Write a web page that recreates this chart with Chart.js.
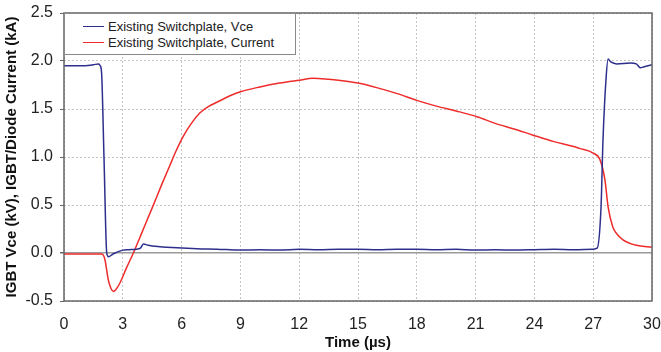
<!DOCTYPE html>
<html>
<head>
<meta charset="utf-8">
<script src="https://cdn.jsdelivr.net/npm/chart.js@4.4.1/dist/chart.umd.min.js"></script>
<style>
  html, body { margin: 0; padding: 0; background: #fff; }
  #wrap { position: relative; width: 661px; height: 352px; }
  #legend {
    position: absolute; left: 64px; top: 13px; width: 232px; height: 42px;
    background: #fff; border: 1px solid #8a8a8a; box-sizing: border-box;
    font: 13px "Liberation Sans", Arial, sans-serif; color: #222;
    padding-top: 4px;
  }
  #legend .item { display: flex; align-items: center; height: 16px; padding-left: 18px; }
  #legend .swatch { width: 21px; height: 0; border-top: 1.5px solid; margin-right: 4px; }
</style>
</head>
<body>
<div id="wrap">
  <canvas id="chart" width="661" height="352"></canvas>
  <div id="legend"></div>
</div>
<script>
// Vce trace (kV)
const vceTime = [0, 1.0, 1.5, 1.75, 1.85, 1.92, 2.04, 2.18, 2.27, 2.5, 3.0, 3.3, 3.7, 3.9, 4.05, 4.3, 4.9, 5.25,
    6.8, 7.8, 9, 10, 11, 12, 13, 14, 15, 16, 17, 18, 19, 20, 21, 22, 23, 24, 25, 26, 27, 27.2, 27.4,
    27.5, 27.65, 27.76, 27.9, 28.2, 28.9, 29.2, 29.4, 29.6, 30];
const vceValues = [1.95, 1.95, 1.96, 1.97, 1.95, 1.87, 1.0, 0.0, -0.04, -0.01, 0.03, 0.035, 0.04, 0.05, 0.095, 0.08, 0.065, 0.06,
    0.045, 0.04, 0.03, 0.035, 0.03, 0.04, 0.035, 0.04, 0.04, 0.035, 0.04, 0.04, 0.035, 0.04, 0.03, 0.035, 0.03, 0.035, 0.04, 0.035, 0.04, 0.05, 0.48,
    1.18, 1.8, 2.02, 1.99, 1.97, 1.98, 1.97, 1.93, 1.94, 1.96];

// IGBT/diode current trace (kA)
const currentTime = [0, 1, 1.9, 2.0, 2.09, 2.26, 2.4, 2.52, 2.65, 2.86, 3.2, 3.54, 4.0, 4.5, 5.0, 5.5, 5.71, 6.07,
    6.5, 6.94, 7.4, 7.8, 8.5, 9, 10, 11, 12, 12.7, 13.5, 14, 15, 16, 17, 18, 19, 20, 21.07, 22, 23, 23.9,
    25, 26, 26.3, 27, 27.35, 27.6, 27.76, 28.0, 28.2, 28.5, 29.2, 30];
const currentValues = [-0.01, -0.01, -0.01, -0.02, -0.07, -0.28, -0.37, -0.40, -0.38, -0.31, -0.15, 0, 0.225, 0.47, 0.72, 0.96, 1.06, 1.21,
    1.35, 1.46, 1.53, 1.57, 1.64, 1.68, 1.73, 1.77, 1.80, 1.82, 1.81, 1.80, 1.77, 1.72, 1.66, 1.59, 1.53, 1.48, 1.42, 1.35, 1.29, 1.23,
    1.16, 1.11, 1.09, 1.04, 0.97, 0.76, 0.48, 0.27, 0.2, 0.14, 0.08, 0.06];

const seriesLabels = ['Existing Switchplate, Vce', 'Existing Switchplate, Current'];
const xTicks = [0, 3, 6, 9, 12, 15, 18, 21, 24, 27, 30];
const yTicks = [-0.5, 0.0, 0.5, 1.0, 1.5, 2.0, 2.5];

const toPoints = (xs, ys) => xs.map((x, i) => ({ x: x, y: ys[i] }));

// outline round the plot area, like the scope export
const plotFrame = {
    id: 'plotFrame',
    afterDraw(chart) {
        const { ctx, chartArea: a } = chart;
        ctx.save();
        ctx.strokeStyle = '#666';
        ctx.lineWidth = 1.5;
        ctx.strokeRect(a.left, a.top, a.right - a.left, a.bottom - a.top);
        ctx.restore();
    }
};

const family = '"Liberation Sans", Arial, sans-serif';
const tickFont = { family: family, size: 16 };
const titleFont = { family: family, size: 15, weight: 'bold' };

const chart = new Chart(document.getElementById('chart'), {
    type: 'line',
    data: {
        datasets: [{
            label: seriesLabels[0],
            data: toPoints(vceTime, vceValues),
            borderColor: '#2e2f8c',
            borderWidth: 1.5,
            pointRadius: 0,
            cubicInterpolationMode: 'monotone'
        }, {
            label: seriesLabels[1],
            data: toPoints(currentTime, currentValues),
            borderColor: '#ee2c2c',
            borderWidth: 1.5,
            pointRadius: 0,
            cubicInterpolationMode: 'monotone'
        }]
    },
    options: {
        responsive: false,
        animation: false,
        events: [],
        layout: { padding: { top: 13, right: 9, left: 0, bottom: 0 } },
        plugins: { legend: { display: false }, tooltip: { enabled: false } },
        scales: {
            x: {
                type: 'linear',
                min: 0, max: 30,
                afterBuildTicks: s => { s.ticks = xTicks.map(v => ({ value: v })); },
                afterFit: s => { s.height = 51; s.paddingLeft = 0; s.paddingRight = 0; },
                ticks: { font: tickFont, color: '#222', padding: 14, maxRotation: 0 },
                grid: { color: '#c4c4c4', drawTicks: false },
                border: { display: false, dash: [2, 2] },
                title: {
                    display: true, text: 'Time (µs)', color: '#111',
                    font: titleFont,
                    padding: { top: 0, bottom: 0 }
                }
            },
            y: {
                min: -0.5, max: 2.5,
                afterBuildTicks: s => { s.ticks = yTicks.map(v => ({ value: v })); },
                afterFit: s => { s.width = 64; s.paddingTop = 0; s.paddingBottom = 0; },
                ticks: { font: tickFont, color: '#222', padding: 7, callback: v => v.toFixed(1) },
                grid: {
                    color: ctx => ctx.tick && ctx.tick.value === 0 ? '#9a9a9a' : '#c4c4c4',
                    lineWidth: ctx => ctx.tick && ctx.tick.value === 0 ? 1.5 : 1,
                    tickLength: 4, tickColor: '#666'
                },
                border: { display: false, dash: ctx => ctx.tick && ctx.tick.value === 0 ? [] : [2, 2] },
                title: {
                    display: true, text: 'IGBT Vce (kV), IGBT/Diode Current (kA)', color: '#111',
                    font: titleFont,
                    padding: { top: 3, bottom: 3 }
                }
            }
        }
    },
    plugins: [plotFrame]
});

// legend box sits inside the plot, top left
const legendEl = document.getElementById('legend');
chart.data.datasets.forEach(ds => {
    const item = document.createElement('div');
    item.className = 'item';
    const sw = document.createElement('span');
    sw.className = 'swatch';
    sw.style.borderTopColor = ds.borderColor;
    const txt = document.createElement('span');
    txt.textContent = ds.label;
    item.appendChild(sw);
    item.appendChild(txt);
    legendEl.appendChild(item);
});
</script>
</body>
</html>
